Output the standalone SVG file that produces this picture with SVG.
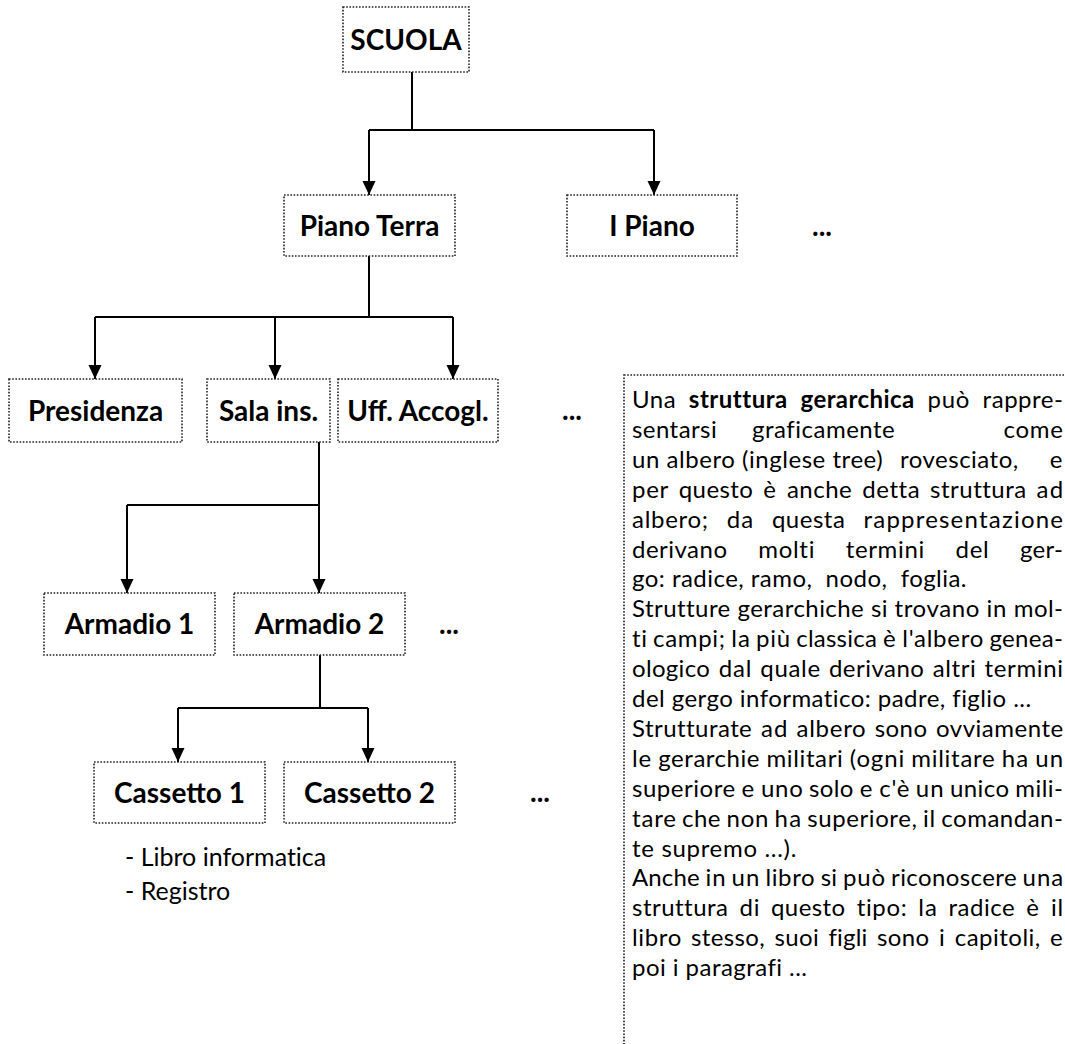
<svg xmlns="http://www.w3.org/2000/svg" width="1065" height="1044" viewBox="0 0 1065 1044">
<style>
.box{fill:#fff;stroke:#222;stroke-width:1.6;stroke-dasharray:1.6 1.6}
.frame{fill:none;stroke:#222;stroke-width:1.6;stroke-dasharray:1.6 1.6}
.lbl{font-family:Lato,"Liberation Sans",sans-serif;font-weight:bold;font-size:28px;text-anchor:middle;fill:#000}
.dots{font-family:Lato,"Liberation Sans",sans-serif;font-weight:bold;font-size:28px;text-anchor:middle;fill:#000}
.p{font-family:Lato,"Liberation Sans",sans-serif;font-size:24px;fill:#000;font-variant-ligatures:none}
.b{font-weight:bold}
.list{font-family:Lato,"Liberation Sans",sans-serif;font-size:25px;fill:#000;font-variant-ligatures:none}
.ln{fill:none;stroke:#000;stroke-width:2}
.ar{fill:none;stroke:#000;stroke-width:2;marker-end:url(#arr)}
</style>
<defs>
<marker id="arr" markerUnits="userSpaceOnUse" markerWidth="14" markerHeight="14" refX="14" refY="6.5" orient="auto">
<path d="M0,0 L14,6.5 L0,13 z" fill="#000"/>
</marker>
</defs>
<rect width="1065" height="1044" fill="#fff"/>

<g id="connectors">
<path class="ln" d="M412,72 V130 M369,130 H654"/>
<path class="ar" d="M369,130 V195"/>
<path class="ar" d="M654,130 V195"/>
<path class="ln" d="M369,256 V317 M95,317 H453"/>
<path class="ar" d="M95,317 V379"/>
<path class="ar" d="M275,317 V379"/>
<path class="ar" d="M453,317 V379"/>
<path class="ln" d="M319,442 V505 M127,505 H319"/>
<path class="ar" d="M127,505 V593"/>
<path class="ar" d="M319,505 V593"/>
<path class="ln" d="M320,655 V708 M178,708 H368"/>
<path class="ar" d="M178,708 V762"/>
<path class="ar" d="M368,708 V762"/>
</g>

<g id="n-scuola"><rect class="box" x="343" y="7" width="126" height="65"/><text class="lbl" x="406" y="49.5">SCUOLA</text></g>
<g id="n-pianoterra"><rect class="box" x="284" y="195" width="171" height="61"/><text class="lbl" x="369.5" y="235.5">Piano Terra</text></g>
<g id="n-ipiano"><rect class="box" x="567" y="195" width="170" height="61"/><text class="lbl" x="652" y="235.5">I Piano</text></g>
<g id="n-dots1"><text class="dots" x="822" y="236">...</text></g>
<g id="n-presidenza"><rect class="box" x="9" y="379" width="173" height="63"/><text class="lbl" x="95.5" y="420.5">Presidenza</text></g>
<g id="n-salains"><rect class="box" x="207" y="379" width="123" height="63"/><text class="lbl" x="268.5" y="420.5">Sala ins.</text></g>
<g id="n-uffaccogl"><rect class="box" x="338" y="379" width="160" height="63"/><text class="lbl" x="418" y="420.5">Uff. Accogl.</text></g>
<g id="n-dots2"><text class="dots" x="572" y="420">...</text></g>
<g id="n-armadio1"><rect class="box" x="44" y="593" width="171" height="62"/><text class="lbl" x="129.5" y="634">Armadio 1</text></g>
<g id="n-armadio2"><rect class="box" x="234" y="593" width="171" height="62"/><text class="lbl" x="319.5" y="634">Armadio 2</text></g>
<g id="n-dots3"><text class="dots" x="449" y="634">...</text></g>
<g id="n-cassetto1"><rect class="box" x="94" y="762" width="171" height="61"/><text class="lbl" x="179.5" y="802.5">Cassetto 1</text></g>
<g id="n-cassetto2"><rect class="box" x="284" y="762" width="171" height="61"/><text class="lbl" x="369.5" y="802.5">Cassetto 2</text></g>
<g id="n-dots4"><text class="dots" x="540" y="802">...</text></g>

<g id="list">
<text class="list" x="125" y="866">- Libro informatica</text>
<text class="list" x="125" y="900">- Registro</text>
</g>

<g id="note">
<rect class="frame" x="624" y="375" width="470" height="700"/>
<text class="p" y="408"><tspan x="632" textLength="43.6">Una</tspan><tspan class="b" x="688.85" textLength="98.4">struttura</tspan><tspan class="b" x="800.5" textLength="113.7">gerarchica</tspan><tspan x="927.45" textLength="41.9">può</tspan><tspan x="982.6" textLength="80.4">rappre-</tspan></text>
<text class="p" y="437.9"><tspan x="632" textLength="84.7">sentarsi</tspan><tspan x="752" textLength="142.8">graficamente</tspan><tspan x="1003.5" textLength="59.5">come</tspan></text>
<text class="p" y="467.8"><tspan x="632" textLength="250.7">un albero (inglese tree)</tspan><tspan x="900" textLength="118.2">rovesciato,</tspan><tspan x="1049.8" textLength="13.2">e</tspan></text>
<text class="p" y="497.7"><tspan x="632" textLength="36.3">per</tspan><tspan x="678.7" textLength="74.2">questo</tspan><tspan x="763.3" textLength="13.2">è</tspan><tspan x="786.9" textLength="64.9">anche</tspan><tspan x="862.2" textLength="57.5">detta</tspan><tspan x="930.1" textLength="96">struttura</tspan><tspan x="1036.5" textLength="26.6">ad</tspan></text>
<text class="p" y="527.6"><tspan x="632" textLength="76.1">albero;</tspan><tspan x="726.7" textLength="26.6">da</tspan><tspan x="771.9" textLength="73">questa</tspan><tspan x="863.5" textLength="199.5">rappresentazione</tspan></text>
<text class="p" y="557.5"><tspan x="632" textLength="95">derivano</tspan><tspan x="758.3" textLength="56.1">molti</tspan><tspan x="845.7" textLength="78.5">termini</tspan><tspan x="955.5" textLength="33.2">del</tspan><tspan x="1020" textLength="43">ger-</tspan></text>
<text class="p" y="587.4" xml:space="preserve"><tspan x="632" textLength="334.5">go: radice, ramo,  nodo,  foglia.</tspan></text>
<text class="p" y="617.3"><tspan x="632" textLength="98.3">Strutture</tspan><tspan x="737.5" textLength="126.3">gerarchiche</tspan><tspan x="871" textLength="16.4">si</tspan><tspan x="894.6" textLength="84.7">trovano</tspan><tspan x="986.5" textLength="20">in</tspan><tspan x="1013.7" textLength="49.3">mol-</tspan></text>
<text class="p" y="647.2"><tspan x="632" textLength="14.9">ti</tspan><tspan x="653" textLength="72.1">campi;</tspan><tspan x="731.2" textLength="18.8">la</tspan><tspan x="756.1" textLength="34">più</tspan><tspan x="796.2" textLength="80.7">classica</tspan><tspan x="883" textLength="13.2">è</tspan><tspan x="902.3" textLength="81">l'albero</tspan><tspan x="989.4" textLength="73.6">genea-</tspan></text>
<text class="p" y="677.1"><tspan x="632" textLength="77.8">ologico</tspan><tspan x="718.7" textLength="32.7">dal</tspan><tspan x="760.3" textLength="59.8">quale</tspan><tspan x="828.9" textLength="95">derivano</tspan><tspan x="932.8" textLength="42.9">altri</tspan><tspan x="984.5" textLength="78.5">termini</tspan></text>
<text class="p" y="707"><tspan x="632" textLength="399.1">del gergo informatico: padre, figlio ...</tspan></text>
<text class="p" y="736.9"><tspan x="632" textLength="119.8">Strutturate</tspan><tspan x="760.9" textLength="26.6">ad</tspan><tspan x="796.6" textLength="69.1">albero</tspan><tspan x="874.8" textLength="52.2">sono</tspan><tspan x="936.1" textLength="127">ovviamente</tspan></text>
<text class="p" y="766.8"><tspan x="632" textLength="19.3">le</tspan><tspan x="658.3" textLength="101.2">gerarchie</tspan><tspan x="766.5" textLength="76.3">militari</tspan><tspan x="849.8" textLength="54.5">(ogni</tspan><tspan x="911.3" textLength="83.4">militare</tspan><tspan x="1001.7" textLength="26.6">ha</tspan><tspan x="1035.3" textLength="27.8">un</tspan></text>
<text class="p" y="796.7"><tspan x="632" textLength="103.1">superiore</tspan><tspan x="741.4" textLength="13.2">e</tspan><tspan x="760.9" textLength="41.9">uno</tspan><tspan x="809.1" textLength="44.3">solo</tspan><tspan x="859.7" textLength="13.2">e</tspan><tspan x="879.2" textLength="30.3">c'è</tspan><tspan x="915.8" textLength="27.8">un</tspan><tspan x="949.9" textLength="59.1">unico</tspan><tspan x="1015.3" textLength="47.5">mili-</tspan></text>
<text class="p" y="826.6"><tspan x="632" textLength="44">tare</tspan><tspan x="682.1" textLength="38.3">che</tspan><tspan x="726.5" textLength="41.9">non</tspan><tspan x="774.5" textLength="26.6">ha</tspan><tspan x="807.2" textLength="109.7">superiore,</tspan><tspan x="923" textLength="12.1">il</tspan><tspan x="941.3" textLength="121.6">comandan-</tspan></text>
<text class="p" y="856.5"><tspan x="632" textLength="164.3">te supremo ...).</tspan></text>
<text class="p" y="886.4"><tspan x="632" textLength="67.6">Anche</tspan><tspan x="705.6" textLength="20">in</tspan><tspan x="731.6" textLength="27.8">un</tspan><tspan x="765.4" textLength="49.3">libro</tspan><tspan x="820.7" textLength="16.4">si</tspan><tspan x="843.1" textLength="41.9">può</tspan><tspan x="891" textLength="125.6">riconoscere</tspan><tspan x="1022.6" textLength="40.6">una</tspan></text>
<text class="p" y="916.3"><tspan x="632" textLength="96">struttura</tspan><tspan x="739.5" textLength="20">di</tspan><tspan x="771" textLength="74.2">questo</tspan><tspan x="856.7" textLength="50">tipo:</tspan><tspan x="918.2" textLength="18.8">la</tspan><tspan x="948.5" textLength="66.3">radice</tspan><tspan x="1026.3" textLength="13.2">è</tspan><tspan x="1051" textLength="12.1">il</tspan></text>
<text class="p" y="946.2"><tspan x="632" textLength="49.3">libro</tspan><tspan x="691" textLength="73.8">stesso,</tspan><tspan x="774.5" textLength="44.3">suoi</tspan><tspan x="828.5" textLength="38.8">figli</tspan><tspan x="877" textLength="52.2">sono</tspan><tspan x="938.9" textLength="6.1">i</tspan><tspan x="954.7" textLength="85.6">capitoli,</tspan><tspan x="1049.9" textLength="13.2">e</tspan></text>
<text class="p" y="976.1"><tspan x="632" textLength="175">poi i paragrafi ...</tspan></text>
</g>
</svg>
